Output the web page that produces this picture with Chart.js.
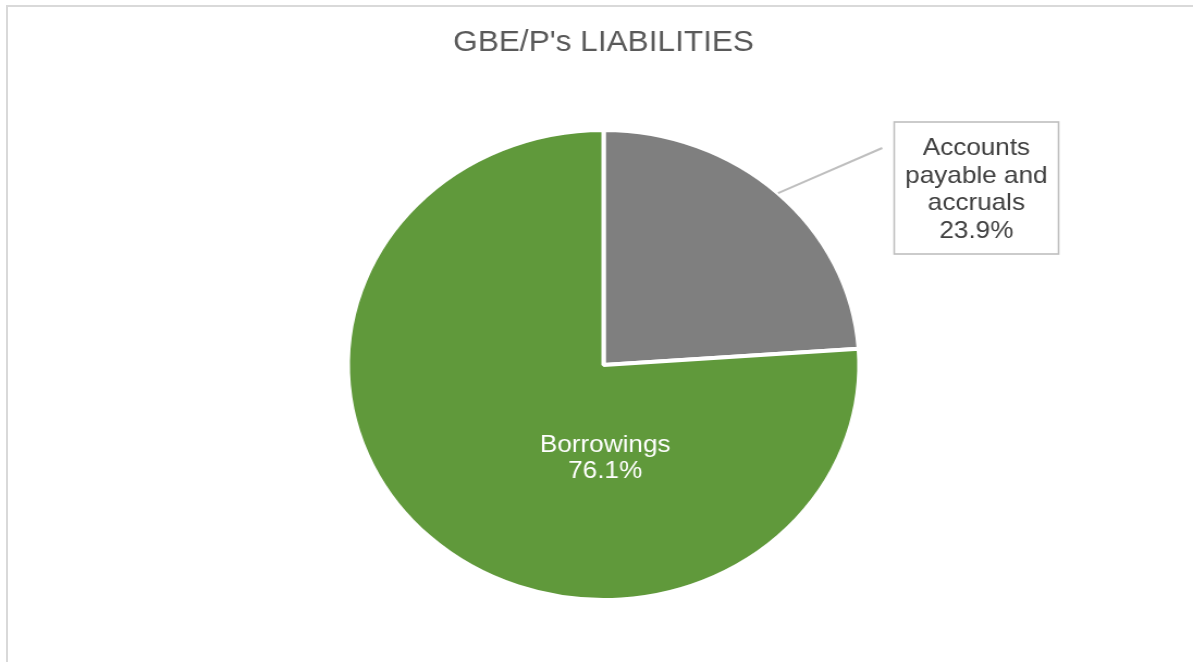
<!DOCTYPE html>
<html>
<head>
<meta charset="utf-8">
<script src="https://cdn.jsdelivr.net/npm/chart.js@4"></script>
<style>
  html, body { margin: 0; padding: 0; background: #fff; overflow: hidden; }
  body { width: 1193px; height: 662px; position: relative; }
  #frame { position: absolute; left: 6px; top: 5px; right: -10px; bottom: -10px;
           border-top: 2px solid #d9d9d9; border-left: 2px solid #d9d9d9; }
  /* the original picture is stretched a little sideways */
  #wrap { position: absolute; left: 0; top: 0; width: 1096px; height: 662px;
          transform: scaleX(1.0885); transform-origin: 0 0; }
</style>
</head>
<body>
<div id="frame"></div>
<div id="wrap"><canvas id="pie" width="1096" height="662"></canvas></div>
<script>
const chartTitle = "GBE/P's LIABILITIES";
const categories = ['Accounts payable and accruals', 'Borrowings'];
const shares = [23.9, 76.1];
const sliceColors = ['#7f7f7f', '#60993b'];
const labelLines = [['Accounts', 'payable and', 'accruals'], ['Borrowings']];

const FONT = '"Liberation Sans", Arial, sans-serif';

const pctText = (i) => {
    const total = shares.reduce((a, b) => a + b, 0);
    return (shares[i] / total * 100).toFixed(1) + '%';
};

// labels: one inside the big slice, one in a callout box
const sliceLabels = {
    id: 'sliceLabels',
    afterDatasetsDraw(chart) {
        const ctx = chart.ctx;
        const arcs = chart.getDatasetMeta(0).data;
        ctx.save();
        ctx.font = '24px ' + FONT;
        ctx.textAlign = 'center';
        ctx.textBaseline = 'alphabetic';

        // Borrowings
        const g = arcs[1];
        ctx.fillStyle = '#ffffff';
        const gx = g.x + 1.5;
        let gy = g.y + 87;
        labelLines[1].concat([pctText(1)]).forEach(t => { ctx.fillText(t, gx, gy); gy += 26; });

        // Accounts payable callout
        const a = arcs[0];
        const mid = (a.startAngle + a.endAngle) / 2;
        const sx = a.x + Math.cos(mid) * a.outerRadius;
        const sy = a.y + Math.sin(mid) * a.outerRadius;
        const bx = a.x + 267, by = a.y - 243, bw = 151, bh = 132;

        ctx.strokeStyle = '#bfbfbf';
        ctx.lineWidth = 2;
        ctx.beginPath();
        ctx.moveTo(sx, sy);
        ctx.lineTo(bx - 11, by + 26);
        ctx.stroke();

        ctx.fillStyle = '#ffffff';
        ctx.fillRect(bx, by, bw, bh);
        ctx.lineWidth = 1.6;
        ctx.strokeRect(bx, by, bw, bh);

        ctx.fillStyle = '#404040';
        let ty = by + 33;
        labelLines[0].concat([pctText(0)]).forEach(t => { ctx.fillText(t, bx + bw / 2, ty); ty += 27.7; });
        ctx.restore();
    }
};

new Chart(document.getElementById('pie'), {
    type: 'pie',
    data: {
        labels: categories,
        datasets: [{
            data: shares,
            backgroundColor: sliceColors,
            borderColor: '#ffffff',
            borderWidth: 4
        }]
    },
    options: {
        responsive: false,
        animation: false,
        radius: 235,
        layout: { padding: { left: 13, right: 0, top: 0, bottom: 0 } },
        plugins: {
            legend: { display: false },
            tooltip: { enabled: false },
            title: {
                display: true,
                text: chartTitle,
                color: '#595959',
                font: { family: FONT, size: 29, weight: 'normal', lineHeight: 1.2 },
                padding: { top: 26, bottom: 7.2 }
            }
        }
    },
    plugins: [sliceLabels]
});
</script>
</body>
</html>
